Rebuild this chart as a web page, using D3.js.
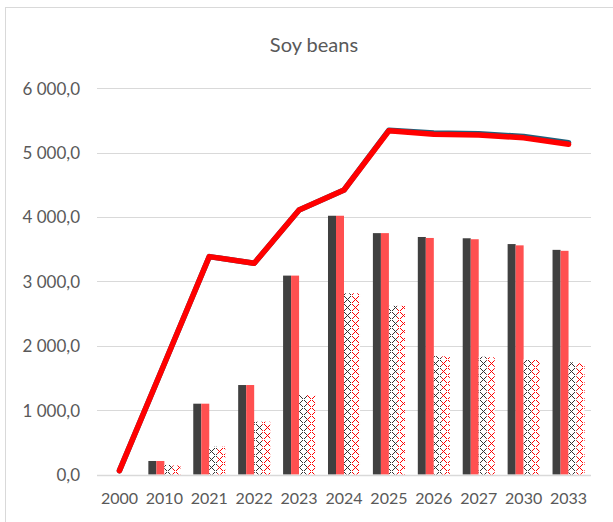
<!DOCTYPE html>
<html>
<head>
<meta charset="utf-8">
<script src="https://cdn.jsdelivr.net/npm/d3@7"></script>
<style>
  html, body { margin: 0; padding: 0; background: #fff; }
  svg { display: block; }
</style>
</head>
<body>
<svg id="chart" width="613" height="522"></svg>
<script>
const categories = ["2000","2010","2021","2022","2023","2024","2025","2026","2027","2030","2033"];
const barDark     = [0, 210, 1100, 1390, 3090, 4020, 3750, 3690, 3670, 3580, 3490];
const barRed      = [0, 210, 1100, 1390, 3090, 4020, 3750, 3675, 3655, 3560, 3475];
const barPatBlack = [0, 148, 432, 820, 1235, 2815, 2620, 1840, 1830, 1790, 1743];
const barPatRed   = [0, 140, 432, 820, 1235, 2815, 2620, 1835, 1820, 1780, 1728];
const lineBlue    = [60, 1720, 3385, 3281, 4110, 4420, 5350, 5305, 5295, 5250, 5155];
const lineRed     = [60, 1720, 3385, 3281, 4110, 4420, 5340, 5285, 5275, 5230, 5130];
const yTicks      = [0, 1000, 2000, 3000, 4000, 5000, 6000];
const title       = "Soy beans";

(function () {
const svg = d3.select("#chart");
const defs = svg.append("defs");

// pixel motif: diamond lattice giving alternating "x" and "o" shapes
const motif = [
  "#.....#.",
  ".#...#..",
  "..#.#...",
  "...#....",
  "..#.#...",
  ".#...#..",
  "#.....#.",
  "........"
];
function makePattern(id, color) {
  const p = defs.append("pattern")
    .attr("id", id).attr("patternUnits", "userSpaceOnUse")
    .attr("width", 8).attr("height", 8);
  p.append("rect").attr("width", 8).attr("height", 8).attr("fill", "#fff");
  motif.forEach((row, yy) => {
    for (let xx = 0; xx < 8; xx++) {
      if (row[xx] === "#") {
        p.append("rect").attr("x", xx).attr("y", yy).attr("width", 1).attr("height", 1).attr("fill", color);
      }
    }
  });
}
makePattern("patBlack", "#333333");
makePattern("patRed", "#FF0000");

// chart border
svg.append("rect").attr("x", 5.5).attr("y", 7.5).attr("width", 620).attr("height", 530)
  .attr("fill", "none").attr("stroke", "#D9D9D9").attr("stroke-width", 1);

const pLeft = 97, pRight = 591, pTop = 88.3, pBottom = 474.5;
const x0 = d3.scaleBand().domain(categories).range([pLeft, pRight]).padding(0);
const groupW = x0.bandwidth() * 0.713;
const seriesKeys = ["dark", "red", "pb", "pr"];
const x1 = d3.scaleBand().domain(seriesKeys).range([0, groupW]).padding(0);
const y = d3.scaleLinear().domain([0, 6000]).range([pBottom, pTop]);

// gridlines
svg.append("g").selectAll("line").data(yTicks).join("line")
  .attr("x1", pLeft).attr("x2", pRight)
  .attr("y1", d => Math.round(y(d)) + 0.5).attr("y2", d => Math.round(y(d)) + 0.5)
  .attr("stroke", "#D9D9D9").attr("stroke-width", 1);

// y axis labels
const yAxis = d3.axisLeft(y).tickValues(yTicks).tickSize(0)
  .tickFormat(d => d3.format(",.1f")(d).replace(/,/g, " ").replace(".", ","));
const ya = svg.append("g").attr("transform", "translate(80,0)").call(yAxis);
ya.select(".domain").remove();
ya.selectAll("text").attr("font-family", "Lato, sans-serif").attr("font-size", 17)
  .attr("fill", "#595959").attr("x", 0).attr("dy", "0.35em");

// x axis labels
const xAxis = d3.axisBottom(x0).tickSize(0);
const xa = svg.append("g").attr("transform", `translate(0,${pBottom})`).call(xAxis);
xa.select(".domain").remove();
xa.selectAll("text").attr("font-family", "Lato, sans-serif").attr("font-size", 16)
  .attr("fill", "#595959").attr("y", 18).attr("dy", "0.71em");

// bars
const seriesData = [
  { key: "dark", vals: barDark, fill: "#404040" },
  { key: "red", vals: barRed, fill: "#FF5050" },
  { key: "pb", vals: barPatBlack, fill: "url(#patBlack)" },
  { key: "pr", vals: barPatRed, fill: "url(#patRed)" }
];
const gBars = svg.append("g");
seriesData.forEach(s => {
  gBars.append("g").selectAll("rect").data(categories.map((c, i) => ({ c, v: s.vals[i] })))
    .join("rect")
    .attr("x", d => x0(d.c) + (x0.bandwidth() - groupW) / 2 + x1(s.key))
    .attr("width", x1.bandwidth())
    .attr("y", d => y(d.v))
    .attr("height", d => y(0) - y(d.v))
    .attr("fill", s.fill);
});

// axis line
svg.append("line").attr("x1", pLeft).attr("x2", pRight)
  .attr("y1", Math.round(pBottom) + 0.5).attr("y2", Math.round(pBottom) + 0.5)
  .attr("stroke", "#D9D9D9").attr("stroke-width", 1.5);

// lines
const line = d3.line().x((d, i) => x0(categories[i]) + x0.bandwidth() / 2).y(d => y(d));
svg.append("path").datum(lineBlue).attr("d", line).attr("fill", "none")
  .attr("stroke", "#1F5F7A").attr("stroke-width", 5.5)
  .attr("stroke-linecap", "round").attr("stroke-linejoin", "round");
svg.append("path").datum(lineRed).attr("d", line).attr("fill", "none")
  .attr("stroke", "#FF0000").attr("stroke-width", 5.5)
  .attr("stroke-linecap", "round").attr("stroke-linejoin", "round");

// title
svg.append("text").attr("x", 314).attr("y", 52).attr("text-anchor", "middle")
  .attr("font-family", "Lato, sans-serif").attr("font-size", 20).attr("fill", "#595959")
  .text(title);
})();
</script>
</body>
</html>
